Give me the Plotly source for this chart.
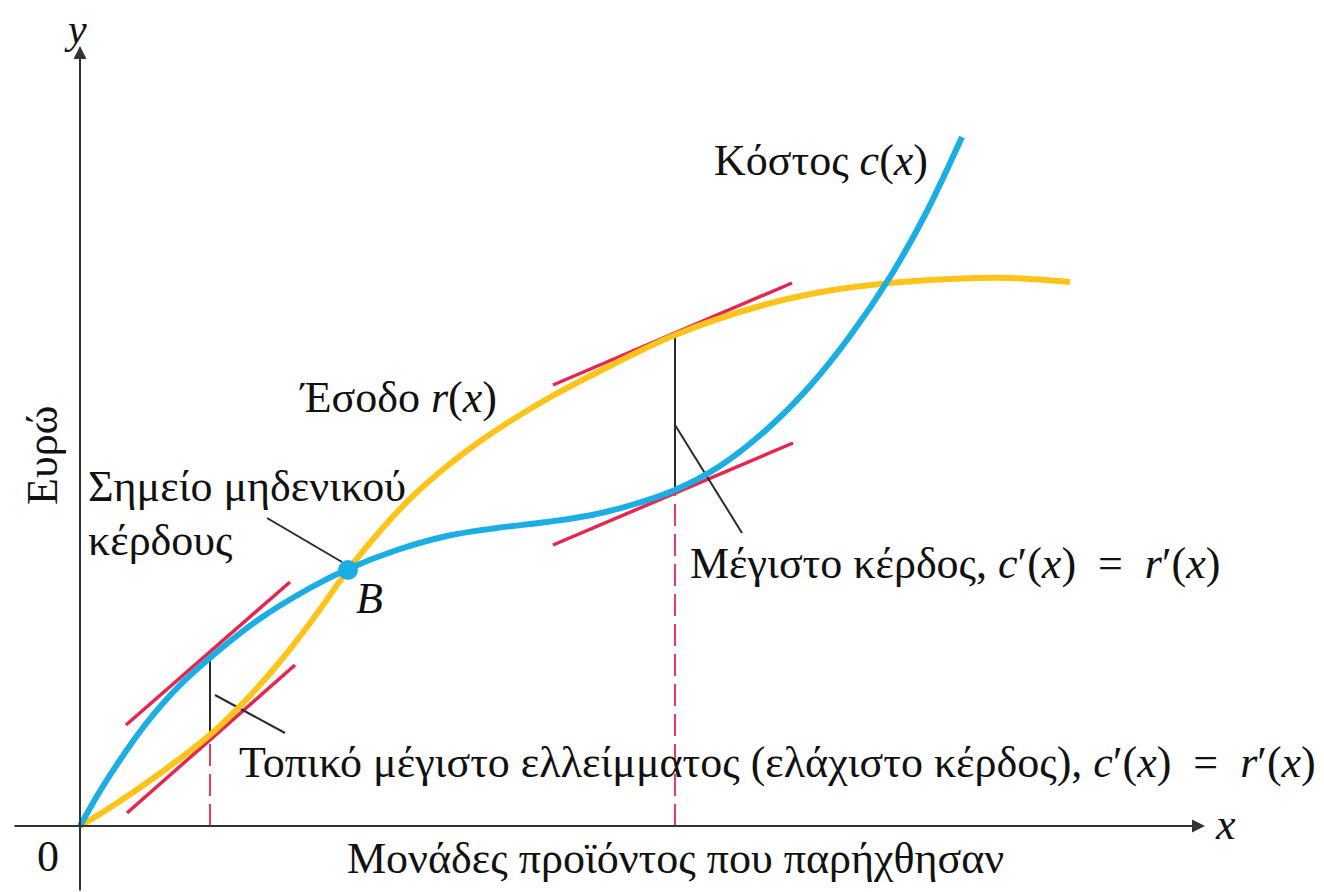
import plotly.graph_objects as go

# Curves (chart units: origin at the axes' crossing)
cost_x = [0, 20, 40, 65, 98, 131, 178, 230, 268, 317, 367, 417, 467, 512, 555, 595, 640, 685, 730, 770, 810, 845, 882]
cost_y = [0, 35, 66, 101, 139, 169, 206, 238, 257, 276, 290, 298, 304, 311, 322, 336, 360, 395, 440, 490, 549, 611, 689]

rev_x = [0, 31, 65, 98, 131, 165, 198, 233, 268, 300, 333, 366, 399, 432, 467, 520, 595, 680, 747, 810, 870, 930, 990]
rev_y = [0, 19, 42, 66, 92, 125, 162, 207, 256, 295, 330, 359, 384, 406, 427, 455, 491, 520, 535, 543, 547, 548, 544]

# Tangent segments (x0, y0, x1, y1)
tangents = [
    (46, 101, 210, 244),
    (47, 13, 215, 161),
    (473, 441, 712, 543),
    (473, 281, 713, 383),
]
# key abscissas and curve heights there
x_keys = [130, 595]
cost_at_keys = [168, 336]
rev_at_keys = [91, 491]

# break-even point
B_x, B_y = [268], [256]

# pointer lines (x0, y0, x1, y1)
pointers = [
    (135, 131, 205, 93),
    (595, 401, 662, 293),
    (187, 308, 262, 264),
]

BLUE = "#1AAEE5"
YELLOW = "#FFC31A"
RED = "#E8254E"
DARK = "#2a2a2a"
FONT = "Liberation Serif"
FS = 44
EQ = "\u2002=\u2002"

fig = go.Figure()

# tangents
for (x0, y0, x1, y1) in tangents:
    fig.add_trace(go.Scatter(x=[x0, x1], y=[y0, y1], mode="lines",
                             line=dict(color=RED, width=3.5), hoverinfo="skip"))

# dashed verticals and black gaps
for xv, cv, rv in zip(x_keys, cost_at_keys, rev_at_keys):
    fig.add_trace(go.Scatter(x=[xv, xv], y=[0, min(cv, rv)],
                             mode="lines", line=dict(color=RED, width=1.8, dash="22px,8px"),
                             hoverinfo="skip"))
    fig.add_trace(go.Scatter(x=[xv, xv], y=[rv, cv], mode="lines",
                             line=dict(color=DARK, width=2), hoverinfo="skip"))

# pointers
for (x0, y0, x1, y1) in pointers:
    fig.add_trace(go.Scatter(x=[x0, x1], y=[y0, y1], mode="lines",
                             line=dict(color=DARK, width=2), hoverinfo="skip"))

# curves
fig.add_trace(go.Scatter(x=rev_x, y=rev_y, mode="lines",
                         line=dict(color=YELLOW, width=6, shape="spline", smoothing=1.0),
                         hoverinfo="skip"))
fig.add_trace(go.Scatter(x=cost_x, y=cost_y, mode="lines",
                         line=dict(color=BLUE, width=6, shape="spline", smoothing=1.0),
                         hoverinfo="skip"))
fig.add_trace(go.Scatter(x=B_x, y=B_y, mode="markers",
                         marker=dict(color=BLUE, size=20), hoverinfo="skip"))

ann = []
# axes with arrows
ann.append(dict(x=1125, y=0, ax=-67, ay=0, xref="x", yref="y", axref="x", ayref="y",
                showarrow=True, arrowhead=2, arrowsize=1.3, arrowwidth=2, arrowcolor="#333333", text=""))
ann.append(dict(x=0, y=780, ax=0, ay=-66, xref="x", yref="y", axref="x", ayref="y",
                showarrow=True, arrowhead=2, arrowsize=1.3, arrowwidth=2, arrowcolor="#333333", text=""))

def txt(x, y, s, size=FS, xanchor="left", angle=0):
    ann.append(dict(x=x, y=y, text=s, showarrow=False, xref="x", yref="y",
                    xanchor=xanchor, yanchor="middle", textangle=angle,
                    font=dict(family=FONT, size=size, color="#111111")))

txt(-5, 797, "<i>y</i>", size=42, xanchor="center")
txt(1145, 2, "<i>x</i>", xanchor="center")
txt(-32, -30, "0", xanchor="center")
txt(595, -32, "Μονάδες προϊόντος που παρήχθησαν", xanchor="center")
txt(-38, 371, "Ευρώ", xanchor="center", angle=-90)
txt(632, 666, "Κόστος <i>c</i>(<i>x</i>)")
txt(217, 429, "Έσοδο <i>r</i>(<i>x</i>)")
txt(6, 340, "Σημείο μηδενικού")
txt(6, 286, "κέρδους")
txt(289, 228, "<i>B</i>", xanchor="center")
txt(608, 263, "Μέγιστο κέρδος, <i>c</i>′(<i>x</i>)" + EQ + "<i>r</i>′(<i>x</i>)")
txt(157, 64, "Τοπικό μέγιστο ελλείμματος (ελάχιστο κέρδος), <i>c</i>′(<i>x</i>)" + EQ + "<i>r</i>′(<i>x</i>)")

fig.update_layout(
    width=1324, height=892, autosize=False,
    margin=dict(l=0, r=0, t=0, b=0),
    paper_bgcolor="white", plot_bgcolor="white",
    showlegend=False,
    xaxis=dict(range=[-80, 1244], visible=False, fixedrange=True),
    yaxis=dict(range=[-66, 826], visible=False, fixedrange=True),
    annotations=ann,
)

fig.write_html("out.html", config={"displayModeBar": False},
               post_script="document.body.style.margin='0px';")
